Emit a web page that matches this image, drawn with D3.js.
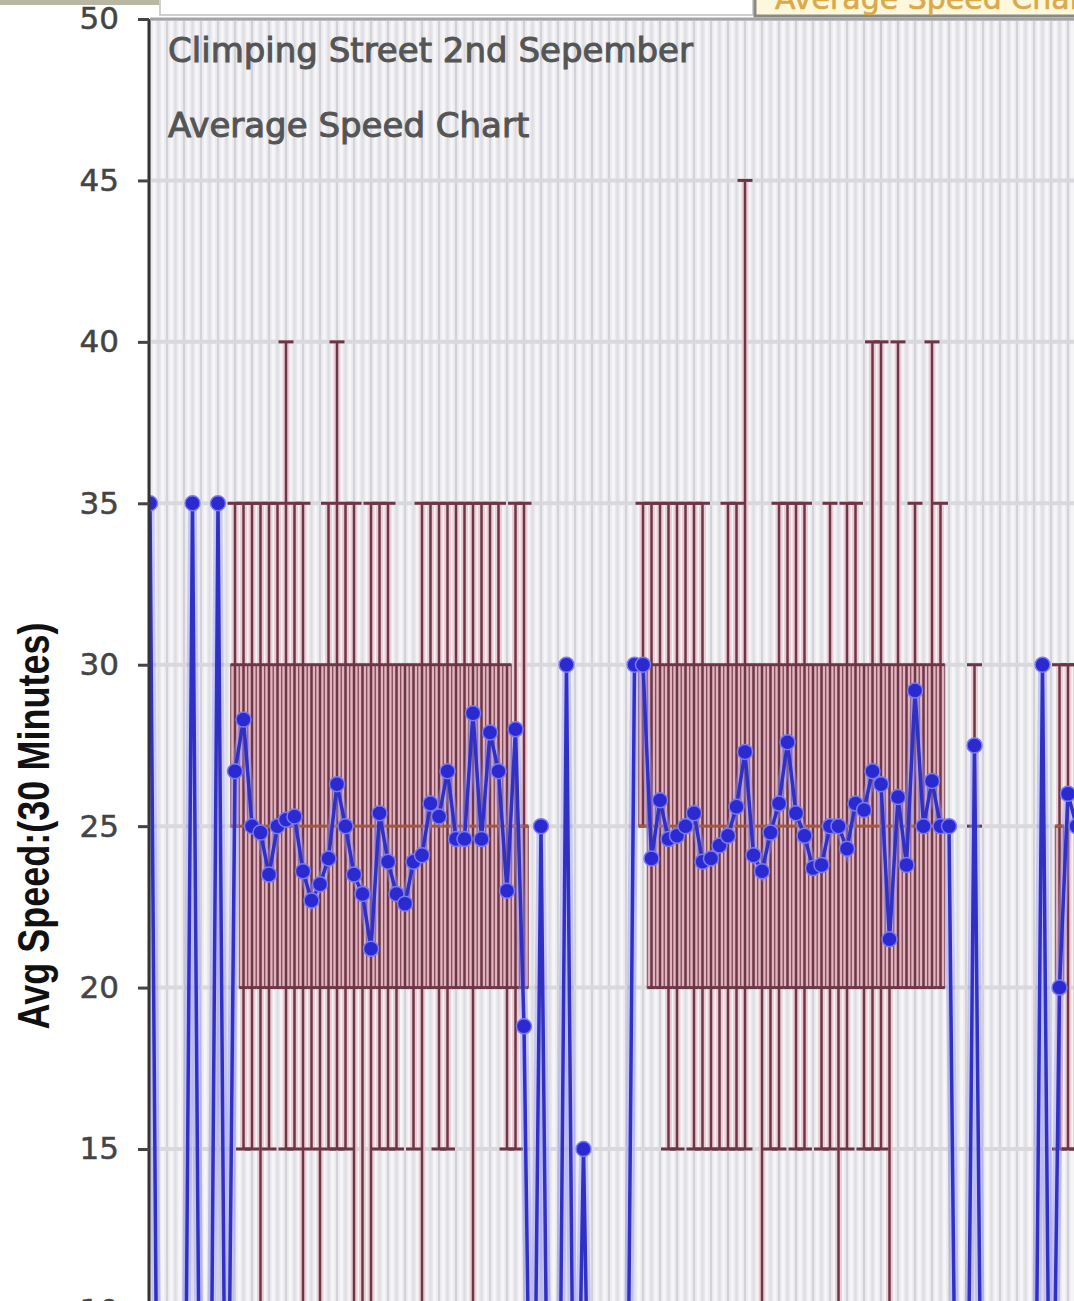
<!DOCTYPE html>
<html>
<head>
<meta charset="utf-8">
<script src="https://cdn.jsdelivr.net/npm/d3@7"></script>
<style>
  body { margin: 0; background: #fff; }
  svg { display: block; }
</style>
</head>
<body>
<div id="chart"></div>
<script>
// one slot per reading period, only part of the day is on screen
var slots = d3.range(111);

// average speed per slot, 0 = no reading
var avgSpeed = [
  35, 0, 0, 0, 0, 35, 0, 0, 35, 0,
  26.7, 28.3, 25.0, 24.8, 23.5, 25.0, 25.2, 25.3, 23.6, 22.7,
  23.2, 24.0, 26.3, 25.0, 23.5, 22.9, 21.2, 25.4, 23.9, 22.9,
  22.6, 23.9, 24.1, 25.7, 25.3, 26.7, 24.6, 24.6, 28.5, 24.6,
  27.9, 26.7, 23.0, 28.0, 18.8, 0, 25, 0, 0, 30,
  0, 15, 0, 0, 0, 0, 0, 30, 30, 24.0,
  25.8, 24.6, 24.7, 25.0, 25.4, 23.9, 24.0, 24.4, 24.7, 25.6,
  27.3, 24.1, 23.6, 24.8, 25.7, 27.6, 25.4, 24.7, 23.7, 23.8,
  25.0, 25.0, 24.3, 25.7, 25.5, 26.7, 26.3, 21.5, 25.9, 23.8,
  29.2, 25.0, 26.4, 25.0, 25.0, 0, 0, 27.5, 0, 0,
  0, 0, 0, 0, 0, 30, 0, 20, 26, 25,
  25
];

// spread of the individual readings per slot (null = no bar)
var n = null;
var maxSpeed = [
  n, n, n, n, n, n, n, n, n, n,
  35, 35, 35, 35, 35, 35, 40, 35, 35, 30,
  30, 35, 40, 35, 35, 30, 35, 35, 35, 30,
  30, 30, 35, 35, 35, 35, 35, 35, 35, 35,
  35, 35, 30, 35, 35, n, n, n, n, n,
  n, n, n, n, n, n, n, n, 35, 35,
  35, 35, 35, 35, 35, 35, 30, 30, 35, 35,
  45, 30, 30, 30, 35, 35, 35, 35, 30, 30,
  35, 30, 35, 35, 30, 40, 40, 30, 40, 30,
  35, 30, 40, 35, n, n, n, 30, n, n,
  n, n, n, n, n, n, n, 30, 30, 30,
  30
];
var q3Speed = [
  n, n, n, n, n, n, n, n, n, n,
  30, 30, 30, 30, 30, 30, 30, 30, 30, 30,
  30, 30, 30, 30, 30, 30, 30, 30, 30, 30,
  30, 30, 30, 30, 30, 30, 30, 30, 30, 30,
  30, 30, 30, 25, 25, n, n, n, n, n,
  n, n, n, n, n, n, n, n, 30, 30,
  30, 30, 30, 30, 30, 30, 30, 30, 30, 30,
  30, 30, 30, 30, 30, 30, 30, 30, 30, 30,
  30, 30, 30, 30, 30, 30, 30, 30, 30, 30,
  30, 30, 30, 30, n, n, n, 27.5, n, n,
  n, n, n, n, n, n, n, 25, 25, 25,
  25
];
var medSpeed = [
  n, n, n, n, n, n, n, n, n, n,
  25, 25, 25, 25, 25, 25, 25, 25, 25, 25,
  25, 25, 25, 25, 25, 25, 25, 25, 25, 25,
  25, 25, 25, 25, 25, 25, 25, 25, 25, 25,
  25, 25, 25, 25, 25, n, n, n, n, n,
  n, n, n, n, n, n, n, n, 25, 25,
  25, 25, 25, 25, 25, 25, 25, 25, 25, 25,
  25, 25, 25, 25, 25, 25, 25, 25, 25, 25,
  25, 25, 25, 25, 25, 25, 25, 25, 25, 25,
  25, 25, 25, 25, n, n, n, 27.5, n, n,
  n, n, n, n, n, n, n, 25, 25, 25,
  25
];
var q1Speed = [
  n, n, n, n, n, n, n, n, n, n,
  25, 20, 20, 20, 20, 20, 20, 20, 20, 20,
  20, 20, 20, 20, 20, 20, 20, 20, 20, 20,
  20, 20, 20, 20, 20, 20, 20, 20, 20, 20,
  20, 20, 20, 20, 20, n, n, n, n, n,
  n, n, n, n, n, n, n, n, 25, 20,
  20, 20, 20, 20, 20, 20, 20, 20, 20, 20,
  20, 20, 20, 20, 20, 20, 20, 20, 20, 20,
  20, 20, 20, 20, 20, 20, 20, 20, 20, 20,
  20, 20, 20, 20, n, n, n, 27.5, n, n,
  n, n, n, n, n, n, n, 20, 25, 25,
  25
];
var minSpeed = [
  n, n, n, n, n, n, n, n, n, n,
  25, 15, 15, 5, 15, 20, 15, 15, 5, 15,
  5, 15, 15, 15, 5, 5, 5, 15, 15, 15,
  20, 15, 5, 20, 15, 15, 20, 20, 5, 20,
  20, 20, 15, 15, 20, n, n, n, n, n,
  n, n, n, n, n, n, n, n, 25, 20,
  20, 15, 15, 20, 15, 15, 15, 15, 15, 15,
  15, 20, 5, 15, 15, 20, 15, 15, 20, 15,
  15, 5, 15, 20, 15, 15, 15, 5, 20, 20,
  20, 20, 20, 20, n, n, n, 25, n, n,
  n, n, n, n, n, n, n, 15, 15, 15,
  15
];

var yTicks = [10, 15, 20, 25, 30, 35, 40, 45, 50];

var W = 1074, H = 1301;
var plotLeft = 150, plotTop = 19;
var step = 8.5;

var svg = d3.select('#chart').append('svg')
  .attr('width', W)
  .attr('height', H)
  .style('overflow', 'hidden');

var x = d3.scalePoint()
  .domain(slots)
  .range([plotLeft, plotLeft + step * (slots.length - 1)]);
var y = d3.scaleLinear()
  .domain([0, 50])
  .range([plotTop + 50 * 32.286, plotTop]);

svg.append('clipPath').attr('id', 'plot-clip')
  .append('rect')
  .attr('x', plotLeft).attr('y', plotTop)
  .attr('width', W - plotLeft).attr('height', H - plotTop);

// bits of the page above the chart
svg.append('rect').attr('x', 0).attr('y', 0).attr('width', 160).attr('height', 5)
  .attr('fill', '#b9b7a4');
svg.append('rect').attr('x', 160).attr('y', -5).attr('width', 593).attr('height', 20)
  .attr('fill', '#fff').attr('stroke', '#cfcfcf').attr('stroke-width', 2);
svg.append('rect').attr('x', 755).attr('y', -6).attr('width', 330).attr('height', 22)
  .attr('fill', '#fdf8dc').attr('stroke', '#8a8a80').attr('stroke-width', 3);
svg.append('text').attr('x', 775).attr('y', 9)
  .style('font-family', 'DejaVu Sans').style('font-size', '30px')
  .attr('fill', '#d9a94a').attr('stroke', '#d9a94a').attr('stroke-width', 0.6)
  .text('Average Speed Chart');

var plot = svg.append('g').attr('clip-path', 'url(#plot-clip)');

plot.append('rect')
  .attr('x', plotLeft).attr('y', plotTop)
  .attr('width', W - plotLeft).attr('height', H - plotTop)
  .attr('fill', '#eaeaee');

// vertical stripes
plot.append('g').selectAll('line').data(slots).enter()
  .append('line')
  .attr('x1', function(d) { return x(d) + step / 2; })
  .attr('x2', function(d) { return x(d) + step / 2; })
  .attr('y1', plotTop).attr('y2', H)
  .attr('stroke', '#f6f6f8').attr('stroke-width', 3);
plot.append('g').selectAll('line').data(slots).enter()
  .append('line')
  .attr('x1', function(d) { return x(d); })
  .attr('x2', function(d) { return x(d); })
  .attr('y1', plotTop).attr('y2', H)
  .attr('stroke', function(d) { return d % 2 ? '#dcdce1' : '#d2d2d8'; })
  .attr('stroke-width', 2);

// horizontal grid
plot.append('g').selectAll('line').data(yTicks).enter()
  .append('line')
  .attr('x1', plotLeft).attr('x2', W)
  .attr('y1', function(d) { return y(d); })
  .attr('y2', function(d) { return y(d); })
  .attr('stroke', '#d8d8dd').attr('stroke-width', 4);

// titles inside the plot
plot.append('text').attr('x', 168).attr('y', 62)
  .style('font-family', 'DejaVu Sans').style('font-size', '34px')
  .attr('fill', '#555').attr('stroke', '#555').attr('stroke-width', 1)
  .text('Climping Street 2nd Sepember');
plot.append('text').attr('x', 168).attr('y', 137)
  .style('font-family', 'DejaVu Sans').style('font-size', '34px')
  .attr('fill', '#555').attr('stroke', '#555').attr('stroke-width', 1)
  .text('Average Speed Chart');

// spread bars
var bars = slots.filter(function(i) { return maxSpeed[i] !== null; });
var boxed = bars.filter(function(i) { return q3Speed[i] > q1Speed[i]; });
var gBars = plot.append('g');
var capW = 15, boxW = step;

gBars.selectAll('line.halo').data(bars).enter()
  .append('line').attr('class', 'halo')
  .attr('x1', function(i) { return x(i); }).attr('x2', function(i) { return x(i); })
  .attr('y1', function(i) { return y(maxSpeed[i]); })
  .attr('y2', function(i) { return y(minSpeed[i]); })
  .attr('stroke', '#ecc6d0').attr('stroke-width', 7).attr('opacity', 0.8);

gBars.selectAll('rect.box').data(boxed).enter()
  .append('rect').attr('class', 'box')
  .attr('x', function(i) { return x(i) - boxW / 2; })
  .attr('y', function(i) { return y(q3Speed[i]); })
  .attr('width', boxW)
  .attr('height', function(i) { return y(q1Speed[i]) - y(q3Speed[i]); })
  .attr('fill', '#dcaab7').attr('fill-opacity', 0.75)
  .attr('stroke', '#7c4352').attr('stroke-width', 1);

gBars.selectAll('line.whisker').data(bars).enter()
  .append('line').attr('class', 'whisker')
  .attr('x1', function(i) { return x(i); }).attr('x2', function(i) { return x(i); })
  .attr('y1', function(i) { return y(maxSpeed[i]); })
  .attr('y2', function(i) { return y(minSpeed[i]); })
  .attr('stroke', '#6c3646').attr('stroke-width', 2.5);

[[maxSpeed, q3Speed], [minSpeed, q1Speed]].forEach(function(pair, k) {
  var arr = pair[0], edge = pair[1];
  gBars.selectAll('line.cap' + k).data(bars.filter(function(i) { return arr[i] !== edge[i]; })).enter()
    .append('line').attr('class', 'cap' + k)
    .attr('x1', function(i) { return x(i) - capW / 2; })
    .attr('x2', function(i) { return x(i) + capW / 2; })
    .attr('y1', function(i) { return y(arr[i]); })
    .attr('y2', function(i) { return y(arr[i]); })
    .attr('stroke', '#6c3646').attr('stroke-width', 3);
});

// box outline along q1/q3 edges
[q3Speed, q1Speed].forEach(function(arr, k) {
  gBars.selectAll('line.edge' + k).data(boxed).enter()
    .append('line').attr('class', 'edge' + k)
    .attr('x1', function(i) { return x(i) - boxW / 2; })
    .attr('x2', function(i) { return x(i) + boxW / 2; })
    .attr('y1', function(i) { return y(arr[i]); })
    .attr('y2', function(i) { return y(arr[i]); })
    .attr('stroke', '#6c3646').attr('stroke-width', 3);
});

gBars.selectAll('line.median').data(boxed).enter()
  .append('line').attr('class', 'median')
  .attr('x1', function(i) { return x(i) - boxW / 2; })
  .attr('x2', function(i) { return x(i) + boxW / 2; })
  .attr('y1', function(i) { return y(medSpeed[i]); })
  .attr('y2', function(i) { return y(medSpeed[i]); })
  .attr('stroke', '#a3583a').attr('stroke-width', 3);

// average speed line
var line = d3.line()
  .x(function(i) { return x(i); })
  .y(function(i) { return y(avgSpeed[i]); });

plot.append('path').datum(slots)
  .attr('d', line)
  .attr('fill', 'none')
  .attr('stroke', '#8f8fff').attr('stroke-opacity', 0.45)
  .attr('stroke-width', 9);
plot.append('path').datum(slots)
  .attr('d', line)
  .attr('fill', 'none')
  .attr('stroke', '#3030c2')
  .attr('stroke-width', 3.5);

plot.append('g').selectAll('circle')
  .data(slots.filter(function(i) { return avgSpeed[i] > 0; }))
  .enter().append('circle')
  .attr('cx', function(i) { return x(i); })
  .attr('cy', function(i) { return y(avgSpeed[i]); })
  .attr('r', 7.5)
  .attr('fill', '#2a2ad0')
  .attr('stroke', '#7a7af5').attr('stroke-width', 1.5);

// y axis
var axis = svg.append('g')
  .attr('transform', 'translate(' + (plotLeft - 1) + ',0)')
  .call(d3.axisLeft(y).tickValues(yTicks).tickSize(11).tickSizeOuter(0).tickPadding(19));
axis.select('.domain')
  .attr('d', 'M0,' + plotTop + 'V' + H)
  .attr('stroke', '#333').attr('stroke-width', 3);
axis.selectAll('.tick line').attr('stroke', '#444').attr('stroke-width', 3);
axis.selectAll('.tick text')
  .style('font-family', 'DejaVu Sans').style('font-size', '31px')
  .attr('fill', '#444').attr('stroke', '#444').attr('stroke-width', 0.5);

svg.append('line')
  .attr('x1', plotLeft).attr('x2', W)
  .attr('y1', plotTop).attr('y2', plotTop)
  .attr('stroke', '#a4a4a8').attr('stroke-width', 3);

svg.append('text')
  .attr('transform', 'translate(49,826) rotate(-90)')
  .attr('text-anchor', 'middle')
  .attr('textLength', 407)
  .attr('lengthAdjust', 'spacingAndGlyphs')
  .style('font-family', '"Liberation Sans Narrow", "Liberation Sans", Arial, sans-serif')
  .style('font-weight', 'bold')
  .style('font-size', '44px')
  .attr('fill', '#111')
  .text('Avg Speed:(30 Minutes)');
</script>
</body>
</html>
